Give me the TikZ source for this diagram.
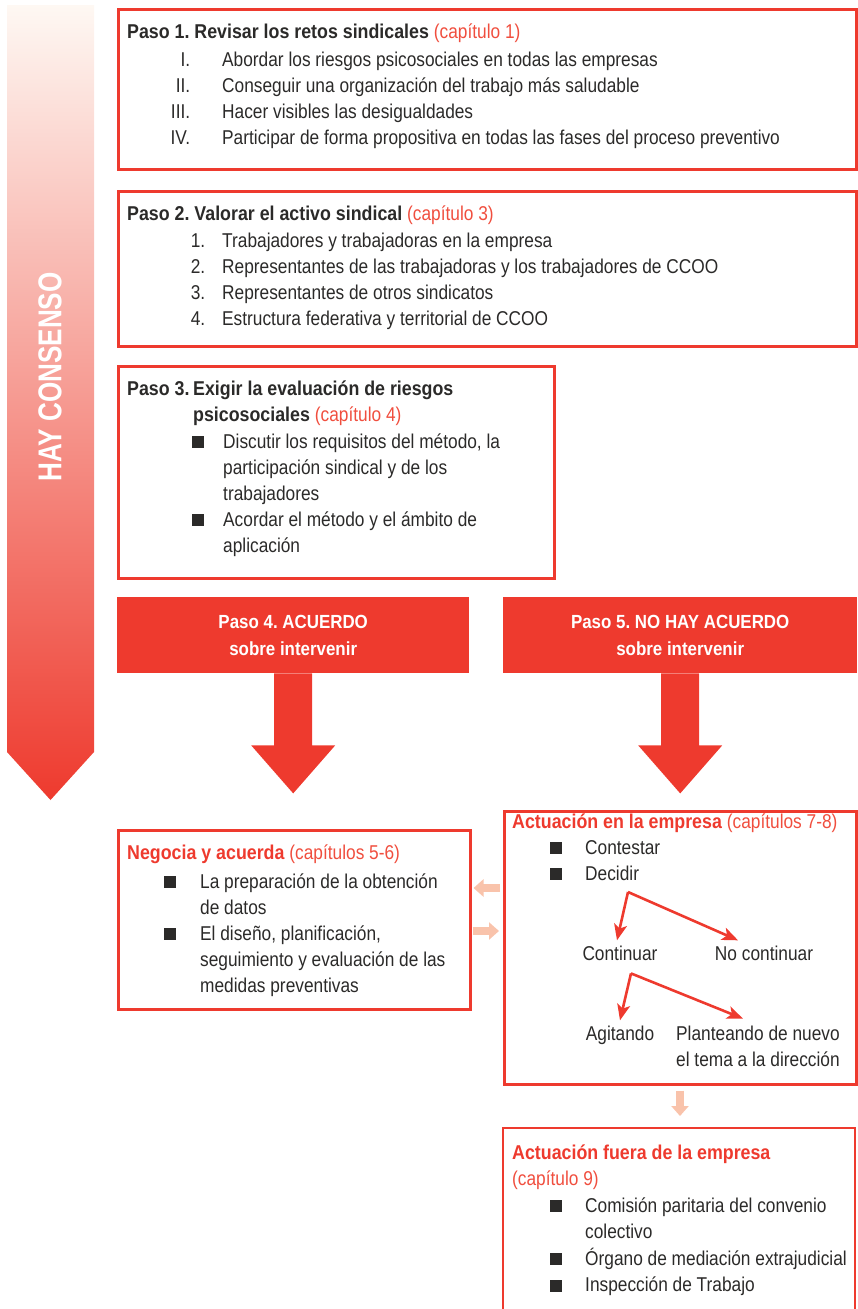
\documentclass[tikz,border=0pt]{standalone}
\usepackage{fontspec}
\setmainfont{Liberation Sans}[FakeStretch=0.865,BoldFeatures={FakeStretch=0.89}]
\newfontfamily\bannerfont{Liberation Sans}[UprightFont={* Bold},FakeStretch=0.79]
\usepackage{array}
\usetikzlibrary{positioning,arrows.meta,calc}
\definecolor{ccred}{HTML}{EE3A2E}
\definecolor{chapred}{HTML}{F04E3E}
\definecolor{txtgray}{HTML}{2B2A29}
\definecolor{softred}{HTML}{F9C3AB}
\definecolor{fadetop}{HTML}{FEF8F3}
\definecolor{fademid}{HTML}{F6A98C}
\newcolumntype{R}[1]{>{\raggedleft\arraybackslash}p{#1}}
\newcommand{\chaptxt}[1]{{\mdseries\color{chapred}#1}}
\newcommand{\sqbul}{\rule{12pt}{12pt}}
\frenchspacing

\begin{document}
\begin{tikzpicture}[
    x=1pt, y=-1pt,
    every node/.style={text=txtgray, inner sep=0pt},
    framebox/.style={draw=ccred, line width=2.5pt, anchor=north west, inner sep=0pt},
    stepfill/.style={fill=ccred, anchor=north west, inner sep=0pt,
        minimum width=#1, minimum height=76},
    body/.style={font=\fontsize{20}{26}\selectfont, anchor=base west},
    headtxt/.style={font=\bfseries\fontsize{20}{26}\selectfont, anchor=base west},
    steptxt/.style={font=\bfseries\fontsize{19}{27}\selectfont, text=white, align=center},
    choice/.style={font=\fontsize{20}{26}\selectfont, anchor=base, inner sep=2pt},
    redarr/.style={draw=ccred, line width=2.6pt,
        -{Stealth[length=16pt,width=13pt,inset=4pt]}},
    softarr/.style={draw=softred, line width=8pt, -{Triangle[length=10pt,width=17pt]}},
]
\useasboundingbox (0,0) rectangle (857,1309);

% Banner on the left
\shade[top color=fadetop, middle color=fademid, bottom color=ccred]
    (7,5) -- (94,5) -- (94,752) -- (50.5,800) -- (7,752) -- cycle;
\node[rotate=90, text=white, font=\bannerfont\fontsize{33}{33}\selectfont]
    (consenso) at (50,377) {HAY CONSENSO};

% === Paso 1 ===
\node[framebox, minimum width=738, minimum height=160] (box1) at (117,8) {};
\node[headtxt] (t1) at ([xshift=10,yshift=-30]box1.north west)
    {Paso 1. Revisar los retos sindicales \chaptxt{(capítulo 1)}};
\node[body] (l1) at ([xshift=33,yshift=-58]box1.north west)
    {\begin{tabular}[t]{@{}R{40pt}@{\hspace{32pt}}l@{}}
     I. & Abordar los riesgos psicosociales en todas las empresas\\
     II. & Conseguir una organización del trabajo más saludable\\
     III. & Hacer visibles las desigualdades\\
     IV. & Participar de forma propositiva en todas las fases del proceso preventivo
     \end{tabular}};

% === Paso 2 ===
\node[framebox, minimum width=738, minimum height=155] (box2) at (117,190) {};
\node[headtxt] (t2) at ([xshift=10,yshift=-30]box2.north west)
    {Paso 2. Valorar el activo sindical \chaptxt{(capítulo 3)}};
\node[body] (l2) at ([xshift=48,yshift=-57]box2.north west)
    {\begin{tabular}[t]{@{}R{40pt}@{\hspace{17pt}}l@{}}
     1. & Trabajadores y trabajadoras en la empresa\\
     2. & Representantes de las trabajadoras y los trabajadores de CCOO\\
     3. & Representantes de otros sindicatos\\
     4. & Estructura federativa y territorial de CCOO
     \end{tabular}};

% === Paso 3 ===
\node[framebox, minimum width=436, minimum height=212] (box3) at (117,365) {};
\node[headtxt] (t3) at ([xshift=10,yshift=-30]box3.north west)
    {\begin{tabular}[t]{@{}p{66pt}@{}l@{}}
     Paso 3. & Exigir la evaluación de riesgos\\
     & psicosociales \chaptxt{(capítulo 4)}
     \end{tabular}};
\node[body] (l3) at ([xshift=75,yshift=-83]box3.north west)
    {\begin{tabular}[t]{@{}p{31pt}@{}l@{}}
     \sqbul & Discutir los requisitos del método, la\\
     & participación sindical y de los\\
     & trabajadores\\
     \sqbul & Acordar el método y el ámbito de\\
     & aplicación
     \end{tabular}};

% === Paso 4 / Paso 5 ===
\node[stepfill=352] (p4) at (117,597) {};
\node[steptxt] (p4txt) at (p4.center) {Paso 4. ACUERDO\\sobre intervenir};
\node[stepfill=354] (p5) at (503,597) {};
\node[steptxt] (p5txt) at (p5.center) {Paso 5. NO HAY ACUERDO\\sobre intervenir};

\fill[ccred] ([xshift=-19]p4.south) -- ++(0,72) -- ++(-23,0) -- ++(42,48)
    -- ++(42,-48) -- ++(-23,0) -- ++(0,-72) -- cycle;
\fill[ccred] ([xshift=-19]p5.south) -- ++(0,72) -- ++(-23,0) -- ++(42,48)
    -- ++(42,-48) -- ++(-23,0) -- ++(0,-72) -- cycle;

% === Negocia y acuerda ===
\node[framebox, minimum width=352, minimum height=179] (neg) at (117,829) {};
\node[headtxt] (tneg) at ([xshift=10,yshift=-30]neg.north west)
    {\textcolor{ccred}{Negocia y acuerda} \chaptxt{(capítulos 5-6)}};
\node[body] (lneg) at ([xshift=47,yshift=-59]neg.north west)
    {\begin{tabular}[t]{@{}p{36pt}@{}l@{}}
     \sqbul & La preparación de la obtención\\
     & de datos\\
     \sqbul & El diseño, planificación,\\
     & seguimiento y evaluación de las\\
     & medidas preventivas
     \end{tabular}};

% === Actuación en la empresa ===
\node[framebox, minimum width=352, minimum height=273] (act) at (503,810) {};
\node[headtxt] (tact) at ([xshift=9,yshift=-18]act.north west)
    {\textcolor{ccred}{Actuación en la empresa} \chaptxt{(capítulos 7-8)}};
\node[body] (lact) at ([xshift=47,yshift=-44]act.north west)
    {\begin{tabular}[t]{@{}p{35pt}@{}l@{}}
     \sqbul & Contestar\\
     \sqbul & Decidir
     \end{tabular}};

\node[choice] (cont) at (620,960) {Continuar};
\node[choice] (nocont) at (764,960) {No continuar};
\node[choice] (agit) at (620,1040) {Agitando};
\node[body] (plant) at (676,1040)
    {\begin{tabular}[t]{@{}l@{}}
     Planteando de nuevo\\
     el tema a la dirección
     \end{tabular}};

\coordinate (fork1) at (628,892);
\coordinate (fork2) at ([xshift=11,yshift=-11]cont.south);
\draw[redarr] (fork1) -- ([xshift=-3,yshift=3]cont.north);
\draw[redarr] (fork1) -- ([xshift=-26,yshift=3]nocont.north);
\draw[redarr] (fork2) -- ([yshift=3]agit.north);
\draw[redarr] (fork2) -- ([xshift=-15,yshift=3]plant.north);

% Links between boxes
\draw[softarr] ($(act.north west)+(-3,78)$) -- ($(neg.north east)+(2,59)$);
\draw[softarr] ($(neg.north east)+(1,102)$) -- ($(act.north west)+(-4,121)$);

% === Actuación fuera de la empresa ===
\coordinate (fuera) at (503,1128);
\draw[draw=ccred, line width=2.5pt] (503,1312) |- (855,1128) -- (855,1312);
\draw[softarr] ([xshift=177,yshift=-5]act.south west) -- ([xshift=177,yshift=12]fuera);
\node[headtxt] (tfuera) at ([xshift=9,yshift=-31]fuera)
    {\begin{tabular}[t]{@{}l@{}}
     \textcolor{ccred}{Actuación fuera de la empresa}\\
     \chaptxt{(capítulo 9)}
     \end{tabular}};
\node[body, font=\fontsize{20}{26.5}\selectfont] (lfuera) at ([xshift=47,yshift=-84]fuera)
    {\begin{tabular}[t]{@{}p{35pt}@{}l@{}}
     \sqbul & Comisión paritaria del convenio\\
     & colectivo\\
     \sqbul & Órgano de mediación extrajudicial\\
     \sqbul & Inspección de Trabajo
     \end{tabular}};

\end{tikzpicture}
\end{document}
